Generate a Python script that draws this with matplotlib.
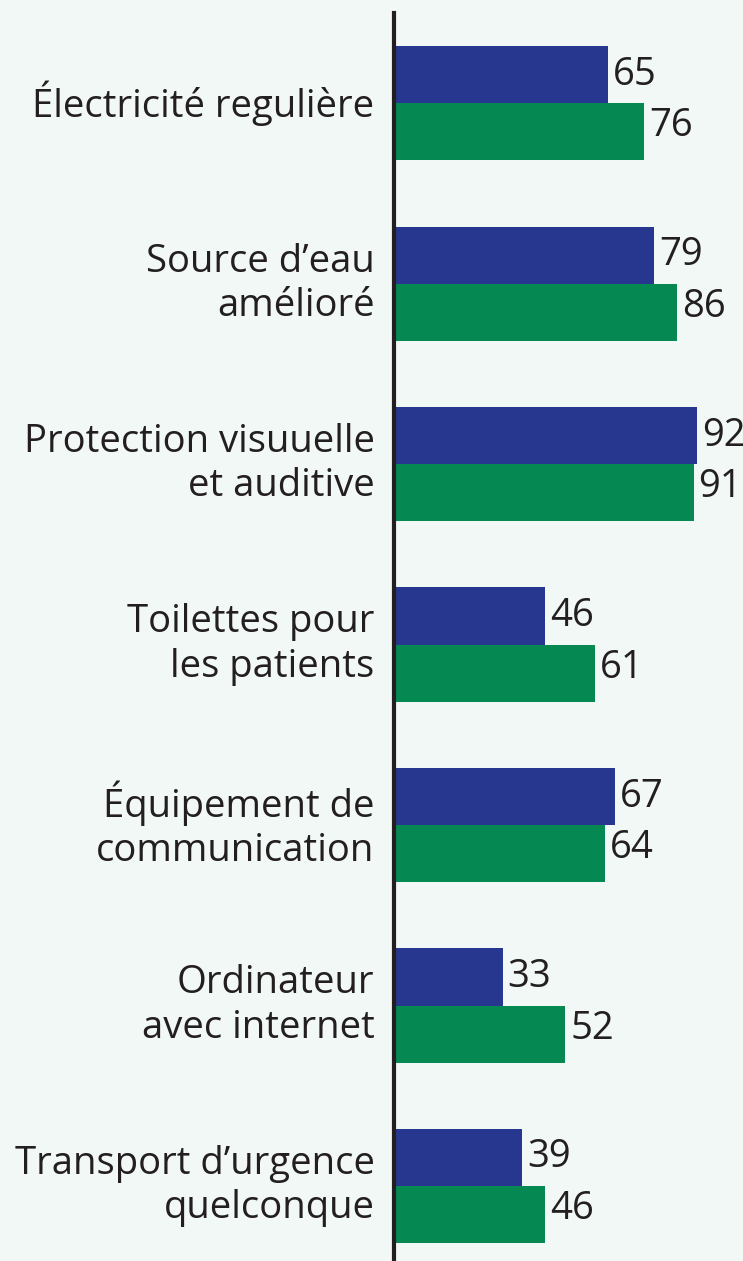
import numpy as np
import matplotlib.pyplot as plt

plt.rcParams['font.family'] = ['Open Sans', 'DejaVu Sans']

categories = ["Électricité regulière", "Source d\u2019eau\namélioré",
              "Protection visuuelle\net auditive", "Toilettes pour\nles patients",
              "Équipement de\ncommunication", "Ordinateur\navec internet",
              "Transport d\u2019urgence\nquelconque"]
serie_bleue = [65, 79, 92, 46, 67, 33, 39]
serie_verte = [76, 86, 91, 61, 64, 52, 46]

bg = '#f2f8f5'
bleu = '#27368f'
vert = '#068853'

fig = plt.figure(figsize=(7.43, 12.61), dpi=100, facecolor=bg)
ax = fig.add_axes([394/743, 0, 349/743, (1261-13)/1261])
ax.set_facecolor(bg)

y = np.arange(len(categories))
h = 0.317
ax.barh(y - h/2, serie_bleue, height=h, color=bleu)
ax.barh(y + h/2, serie_verte, height=h, color=vert)

for yi, v in zip(y, serie_bleue):
    ax.text(v + 1.5, yi - h/2, str(v), va='center', ha='left', fontsize=27.5, color='#231f20', clip_on=False)
for yi, v in zip(y, serie_verte):
    ax.text(v + 1.5, yi + h/2 - 0.03, str(v), va='center', ha='left', fontsize=27.5, color='#231f20', clip_on=False)

ax.set_xlim(0, 106)
ax.set_ylim(6.415, -0.5)
ax.set_yticks(y)
ax.set_yticklabels(categories, fontsize=27.5, color='#231f20', linespacing=1.22, va='center')
ax.tick_params(axis='y', length=0, pad=14)
ax.set_xticks([])
for s in ['top', 'right', 'bottom']:
    ax.spines[s].set_visible(False)
ax.spines['left'].set_linewidth(3)
ax.spines['left'].set_color('#231f20')

fig.savefig('out.png', dpi=100, facecolor=bg)
